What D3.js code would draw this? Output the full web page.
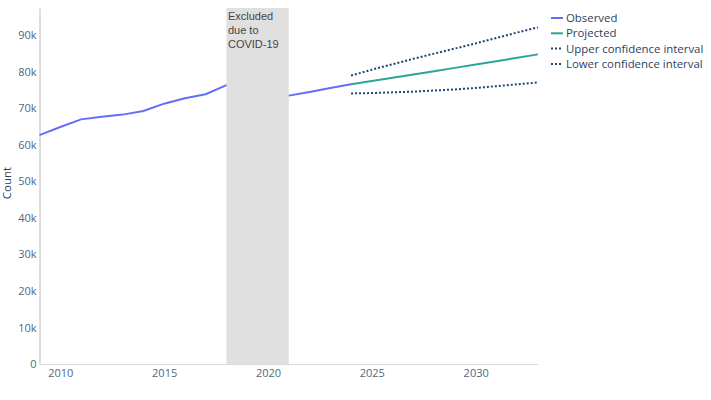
<!DOCTYPE html>
<html>
<head>
<meta charset="utf-8">
<script src="https://cdn.jsdelivr.net/npm/d3@7"></script>
<style>
  body { margin: 0; background: #fff; }
  svg { display: block; }
</style>
</head>
<body>
<svg id="chart"></svg>
<script>
// data
var obsYears = [2009, 2010, 2011, 2012, 2013, 2014, 2015, 2016, 2017, 2018];
var obsValues = [62700, 64900, 67000, 67700, 68300, 69300, 71300, 72800, 73900, 76400];
var obsYears2 = [2021, 2022, 2023, 2024];
var obsValues2 = [73500, 74500, 75600, 76600];
var projYears = [2024, 2025, 2026, 2027, 2028, 2029, 2030, 2031, 2032, 2033];
var projValues = [76600, 77500, 78400, 79300, 80200, 81100, 82000, 82900, 83900, 84800];
var upperValues = [79000, 80600, 82100, 83600, 85000, 86400, 87800, 89300, 90800, 92200];
var lowerValues = [74100, 74200, 74400, 74600, 74900, 75200, 75600, 76100, 76600, 77100];
var covidRange = [2018, 2021];
var covidLabel = ["Excluded", "due to", "COVID-19"];
var xTicks = [2010, 2015, 2020, 2025, 2030];
var yTicks = [0, 10000, 20000, 30000, 40000, 50000, 60000, 70000, 80000, 90000];
var legendNames = ["Observed", "Projected", "Upper confidence interval", "Lower confidence interval"];

var svgWidth = 711, svgHeight = 400;
var plotLeft = 39.5, plotRight = 538, plotTop = 8, plotBottom = 364;

var svg = d3.select('#chart')
  .attr('width', svgWidth)
  .attr('height', svgHeight);

var x = d3.scaleLinear().domain([2009, 2033]).range([plotLeft, plotRight]);
var y = d3.scaleLinear().domain([0, 97500]).range([plotBottom, plotTop]);

var tickFont = "'Open Sans', 'Noto Sans', sans-serif";
var tickColor = '#506784';

// covid shading
svg.append('rect')
  .attr('x', x(covidRange[0]))
  .attr('y', plotTop)
  .attr('width', x(covidRange[1]) - x(covidRange[0]))
  .attr('height', plotBottom - plotTop)
  .attr('fill', '#e0e0e0');

svg.append('text')
  .attr('font-family', "'Liberation Sans', Arial, sans-serif")
  .attr('font-size', 11)
  .attr('fill', '#444')
  .selectAll('tspan')
  .data(covidLabel)
  .enter()
  .append('tspan')
  .attr('x', x(covidRange[0]) + 1.5)
  .attr('y', function(d, i) { return 20 + i * 14; })
  .text(function(d) { return d; });

// axes
var yAxis = d3.axisLeft(y)
  .tickValues(yTicks)
  .tickSize(0)
  .tickPadding(3)
  .tickFormat(function(d) { return d === 0 ? '0' : (d / 1000) + 'k'; });

var xAxis = d3.axisBottom(x)
  .tickValues(xTicks)
  .tickSize(0)
  .tickPadding(5)
  .tickFormat(d3.format('d'));

var yG = svg.append('g')
  .attr('transform', 'translate(' + plotLeft + ',0)')
  .call(yAxis);
yG.select('.domain').attr('stroke', '#c8c8c8').attr('stroke-width', 1.2);

var xG = svg.append('g')
  .attr('transform', 'translate(0,' + plotBottom + ')')
  .call(xAxis);
xG.select('.domain').attr('stroke', '#dcdcdc').attr('stroke-width', 1.2);

svg.selectAll('.tick text')
  .attr('font-family', tickFont)
  .attr('font-size', 11)
  .attr('fill', tickColor);

svg.append('text')
  .attr('transform', 'translate(11,' + ((plotTop + plotBottom) / 2 - 3) + ') rotate(-90)')
  .attr('text-anchor', 'middle')
  .attr('font-family', tickFont)
  .attr('font-size', 11.5)
  .attr('fill', '#2a3f5f')
  .text('Count');

// lines
var line = d3.line()
  .x(function(d) { return x(d[0]); })
  .y(function(d) { return y(d[1]); });

var series = [
  { pts: d3.zip(obsYears, obsValues), color: '#636efa', dash: null },
  { pts: d3.zip(obsYears2, obsValues2), color: '#636efa', dash: null },
  { pts: d3.zip(projYears, projValues), color: '#2ca599', dash: null },
  { pts: d3.zip(projYears, upperValues), color: '#1f4477', dash: '2,2' },
  { pts: d3.zip(projYears, lowerValues), color: '#1f4477', dash: '2,2' }
];

svg.selectAll('.series')
  .data(series)
  .enter()
  .append('path')
  .attr('class', 'series')
  .attr('d', function(d) { return line(d.pts); })
  .attr('fill', 'none')
  .attr('stroke', function(d) { return d.color; })
  .attr('stroke-width', 2)
  .attr('stroke-dasharray', function(d) { return d.dash; });

// legend
var legendStyles = [
  { color: '#636efa', dash: null },
  { color: '#2ca599', dash: null },
  { color: '#1f4477', dash: '2,2' },
  { color: '#1f4477', dash: '2,2' }
];

var legend = svg.selectAll('.legend')
  .data(legendNames)
  .enter()
  .append('g')
  .attr('class', 'legend')
  .attr('transform', function(d, i) { return 'translate(551,' + (18 + i * 15.3) + ')'; });

legend.append('line')
  .attr('x1', 0).attr('x2', 12)
  .attr('y1', 0).attr('y2', 0)
  .attr('stroke', function(d, i) { return legendStyles[i].color; })
  .attr('stroke-width', 2)
  .attr('stroke-dasharray', function(d, i) { return legendStyles[i].dash; });

legend.append('text')
  .attr('x', 15)
  .attr('dy', '0.35em')
  .attr('font-family', tickFont)
  .attr('font-size', 11.4)
  .attr('fill', '#2a3f5f')
  .text(function(d) { return d; });
</script>
</body>
</html>
